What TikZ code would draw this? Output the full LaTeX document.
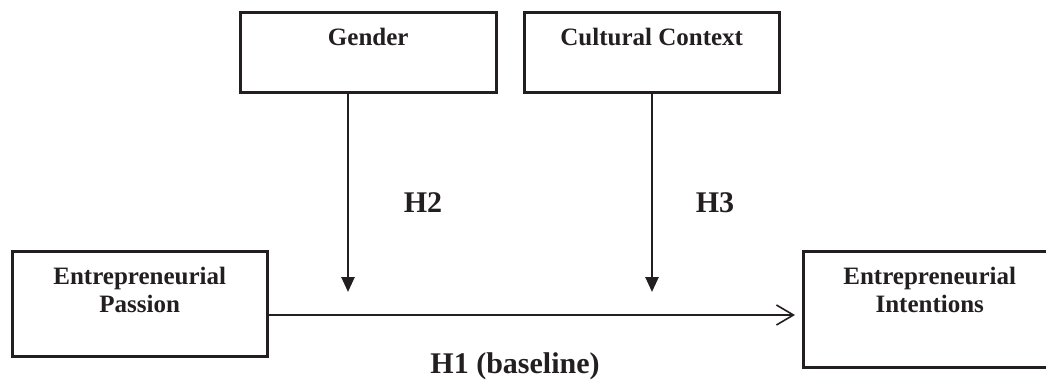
\documentclass[tikz,border=0pt]{standalone}
\usepackage{fontspec}
\setmainfont{Liberation Serif}
\usepackage{tikz}
\usetikzlibrary{arrows.meta, positioning}
\definecolor{ink}{HTML}{231F20}

\begin{document}
\begin{tikzpicture}[
    x=1pt, y=-1pt,
    box/.style={rectangle, draw=ink, line width=2.5pt, anchor=north west, inner sep=0pt},
    boxtext/.style={text=ink, font=\bfseries\fontsize{25}{28}\selectfont, align=center, inner sep=0pt, anchor=north},
    hlabel/.style={text=ink, font=\bfseries\fontsize{30}{34}\selectfont, inner sep=0pt, anchor=base},
    modarrow/.style={draw=ink, line width=2.6pt, -{Triangle[length=15pt, width=13pt]}},
    mainarrow/.style={draw=ink, line width=1.6pt, -{Straight Barb[length=17pt, width=20pt, line width=1.6pt]}}
]
\useasboundingbox (0,0) rectangle (1046,380);

% boxes
\node[box, minimum width=255pt, minimum height=105pt] (passion) at (11,250) {};
\node[box, minimum width=256pt, minimum height=80pt] (gender) at (239,11) {};
\node[box, minimum width=255pt, minimum height=80pt] (culture) at (523,11) {};
\node[box, minimum width=270pt, minimum height=116pt] (intent) at (802,250) {};

\node[boxtext, below=17pt of passion.north] (passiontxt) {Entrepreneurial\\Passion};
\node[boxtext, below=17pt of gender.north] (gendertxt) {Gender};
\node[boxtext, below=17pt of culture.north] (culturetxt) {Cultural Context};
\node[boxtext, below=17pt of intent.north, xshift=-8.5pt] (intenttxt) {Entrepreneurial\\Intentions};

% hypotheses
\node[hlabel] (h2) at (423,212) {H2};
\node[hlabel] (h3) at (715,212) {H3};
\node[hlabel] (h1) at (515,373) {H1 (baseline)};

% connectors
\coordinate (gtip) at (348,292);
\coordinate (ctip) at (652,292);
\coordinate (mainy) at (0,315);

\draw[modarrow] (gtip |- gender.south) -- (gtip);
\draw[modarrow] (ctip |- culture.south) -- (ctip);
\draw[mainarrow, shorten >=7pt] (passion.east |- mainy) -- (intent.west |- mainy);

\end{tikzpicture}
\end{document}
